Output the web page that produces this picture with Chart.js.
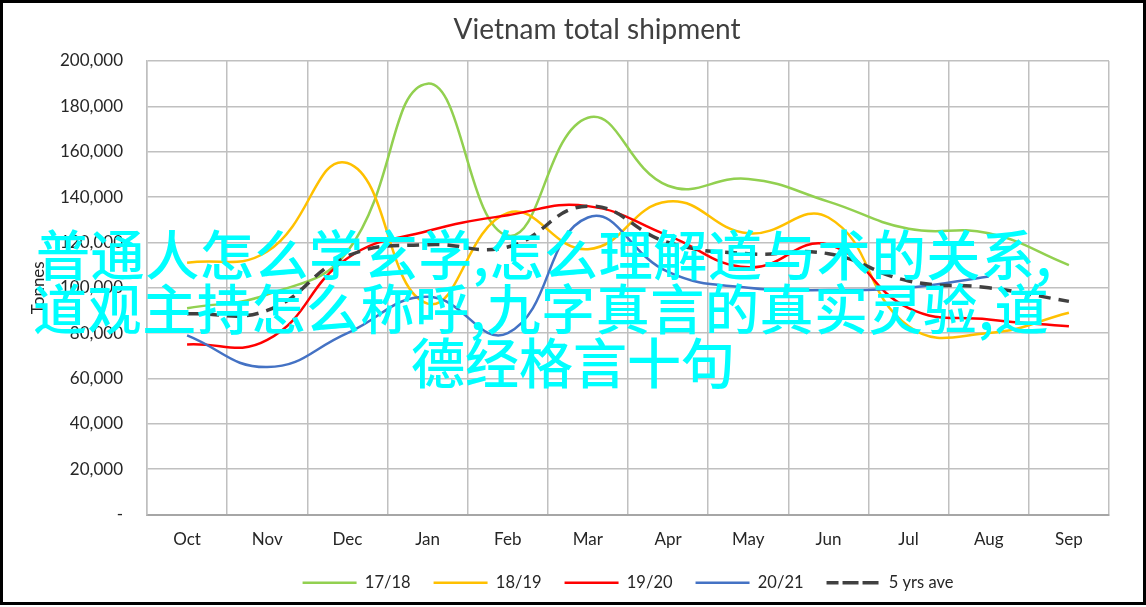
<!DOCTYPE html>
<html><head><meta charset="utf-8">
<script src="https://cdn.jsdelivr.net/npm/chart.js@4.4.1/dist/chart.umd.min.js"></script>
<style>
html,body{margin:0;padding:0;background:#fff;}
#wrap{position:relative;width:1146px;height:607px;overflow:hidden;background:#fff;}
#c{position:absolute;left:0;top:0;}
#frame{position:absolute;left:0;top:0;width:1146px;height:605px;box-sizing:border-box;border:3px solid #000;pointer-events:none;}
#title{position:absolute;top:11px;left:0;width:1194px;text-align:center;font-family:Lato;font-size:28px;color:#404040;}
.ov{position:absolute;font-family:"Noto Sans CJK SC";font-weight:500;font-size:54px;line-height:54px;color:#00ffff;white-space:nowrap;}
</style></head>
<body>
<div id="wrap">
<canvas id="c" width="1146" height="607"></canvas>
<div id="title">Vietnam total shipment</div>
<div class="ov" style="left:36px;top:226px;letter-spacing:0.6px;">普通人怎么学玄学,怎么理解道与术的关系,</div>
<div class="ov" style="left:33px;top:280px;letter-spacing:0.6px;">道观主持怎么称呼,九字真言的真实灵验,道</div>
<div class="ov" style="left:0;width:1146px;text-align:center;top:334px;">德经格言十句</div>
<div id="frame"></div>
</div>
<script>
const categories = ['Oct','Nov','Dec','Jan','Feb','Mar','Apr','May','Jun','Jul','Aug','Sep'];
const seriesNames = ['17/18','18/19','19/20','20/21','5 yrs ave'];
const s1718 = [91000, 97000, 116000, 190000, 123000, 175000, 145000, 148000, 138000, 126000, 124000, 110000];
const s1819 = [111000, 116000, 155000, 93000, 133000, 117000, 138000, 124000, 131000, 83000, 80000, 89000];
const s1920 = [75000, 77000, 113000, 125000, 132000, 136000, 123000, 109000, 119000, 91000, 86000, 83000];
const s2021 = [79000, 65000, 80000, 96000, 80000, 131000, 107000, 100000, 99000, 100000, 105000, null];
const sAvg  = [88500, 90000, 114000, 119000, 118000, 136000, 120000, 115000, 115000, 103000, 100000, 94000];
const yMin = 0, yMax = 200000, yStep = 20000;

const tickFont = {family:'Lato', size:17};
const legendFont = {family:'Lato', size:16.5};
const gridColor = '#c0c0c0';

function line(label, data, color, order, extra){
  return Object.assign({label, data, borderColor:color, backgroundColor:color, borderWidth:2.5,
    pointRadius:0, pointHoverRadius:0, tension:0.45, fill:false, spanGaps:false, order}, extra||{});
}

new Chart(document.getElementById('c'), {
  type:'line',
  data:{
    labels:categories,
    datasets:[
      line(seriesNames[0], s1718, '#92D050', 5),
      line(seriesNames[1], s1819, '#FFC000', 4),
      line(seriesNames[2], s1920, '#FF0000', 3),
      line(seriesNames[3], s2021, '#4472C4', 2),
      line(seriesNames[4], sAvg, '#404040', 1, {borderDash:[12,8], borderWidth:3.5})
    ]
  },
  options:{
    responsive:false, animation:false,
    layout:{padding:{top:61, right:37, bottom:6, left:0}},
    plugins:{
      title:{display:false},
      tooltip:{enabled:false},
      legend:{position:'bottom', fullSize:false,
        labels:{boxWidth:54, boxHeight:0, font:legendFont, color:'#262626', padding:23,
          sort:(a,b)=>a.datasetIndex-b.datasetIndex}}
    },
    scales:{
      x:{
        offset:true,
        grid:{color:gridColor, lineWidth:1.5, drawTicks:false, offset:true},
        border:{color:'#a6a6a6', width:2},
        ticks:{font:tickFont, color:'#262626', padding:15},
        afterFit:(s)=>{s.height=37;}
      },
      y:{
        min:yMin, max:yMax,
        grid:{color:gridColor, lineWidth:1.5, drawTicks:false},
        border:{color:'#bfbfbf', width:1.5},
        ticks:{stepSize:yStep, font:tickFont, color:'#262626', padding:24,
          callback:(v)=> v===0 ? '-' : v.toLocaleString('en-US')},
        title:{display:true, text:'Tonnes', font:tickFont, color:'#262626', padding:{top:28,bottom:0}},
        afterFit:(s)=>{s.width=147;}
      }
    }
  }
});
</script>
</body></html>
